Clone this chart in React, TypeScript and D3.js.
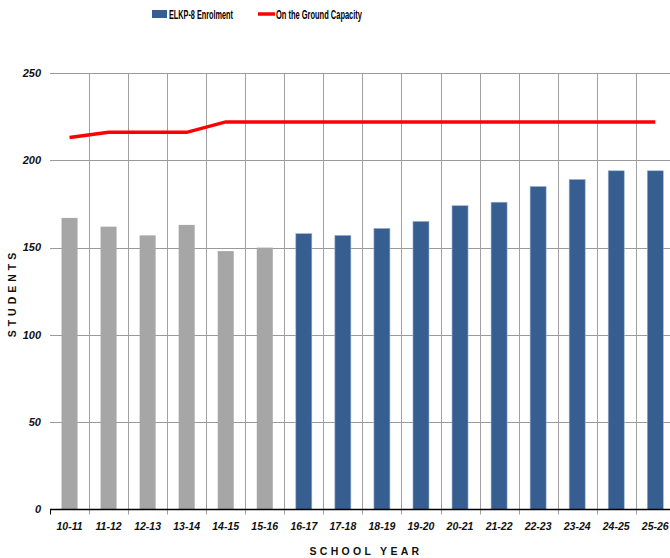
import React, { useRef, useEffect } from 'react';
import * as d3 from 'd3';

const years = ['10-11', '11-12', '12-13', '13-14', '14-15', '15-16', '16-17', '17-18', '18-19', '19-20', '20-21', '21-22', '22-23', '23-24', '24-25', '25-26'];
const enrolment = [167, 162, 157, 163, 148, 150, 158, 157, 161, 165, 174, 176, 185, 189, 194, 194];
// first six years are actuals (drawn grey), the rest are projections
const actualCount = 6;
const capacity = [213, 216, 216, 216, 222, 222, 222, 222, 222, 222, 222, 222, 222, 222, 222, 222];
const yTicks = [0, 50, 100, 150, 200, 250];

const App: React.FC = () => {
  const svgRef = useRef<SVGSVGElement>(null);

  useEffect(() => {
    if (!svgRef.current) return;
    const width = 670;
    const height = 558;
    const left = 50;
    const top = 73;
    const bottom = 509.5;
    const step = 39.05;

    const svg = d3.select(svgRef.current);
    svg.selectAll('*').remove();

    const x = d3.scaleBand<string>().domain(years).range([left, left + step * years.length]).padding(0);
    const y = d3.scaleLinear().domain([0, 250]).range([bottom, top]);

    const grid = svg.append('g');
    // horizontal grid
    grid.selectAll('.hgrid')
      .data(yTicks.filter(t => t > 0))
      .enter()
      .append('line')
      .attr('x1', left)
      .attr('x2', width)
      .attr('y1', d => Math.round(y(d)) + 0.5)
      .attr('y2', d => Math.round(y(d)) + 0.5)
      .style('stroke', '#9a9a9a')
      .style('stroke-width', 1);

    // vertical grid at band boundaries
    grid.selectAll('.vgrid')
      .data(years.slice(1))
      .enter()
      .append('line')
      .attr('x1', d => Math.round(x(d)!) + 0.5)
      .attr('x2', d => Math.round(x(d)!) + 0.5)
      .attr('y1', top)
      .attr('y2', bottom + 5)
      .style('stroke', '#a0a0a0')
      .style('stroke-width', 1);

    // bars
    const bw = x.bandwidth() * 0.41;
    svg.append('g')
      .selectAll('rect')
      .data(enrolment)
      .enter()
      .append('rect')
      .attr('x', (d, i) => x(years[i])! + x.bandwidth() / 2 - bw / 2)
      .attr('y', d => y(d))
      .attr('width', bw)
      .attr('height', d => bottom - y(d))
      .style('fill', (d, i) => (i < actualCount ? '#a6a6a6' : '#365e91'))
      .style('stroke', (d, i) => (i < actualCount ? 'none' : '#9fb3cf'))
      .style('stroke-width', 0.6);

    // x axis line + ticks
    svg.append('line')
      .attr('x1', left)
      .attr('x2', width)
      .attr('y1', bottom)
      .attr('y2', bottom)
      .style('stroke', '#000')
      .style('stroke-width', 1.5);
    svg.append('line')
      .attr('x1', left + 0.5)
      .attr('x2', left + 0.5)
      .attr('y1', bottom)
      .attr('y2', bottom + 5)
      .style('stroke', '#000');

    // capacity line
    const line = d3.line<number>()
      .x((d, i) => x(years[i])! + x.bandwidth() / 2)
      .y(d => y(d));
    svg.append('path')
      .attr('d', line(capacity))
      .style('fill', 'none')
      .style('stroke', '#ff0000')
      .style('stroke-width', 3.5);

    // y tick labels
    svg.selectAll('.ylab')
      .data(yTicks)
      .enter()
      .append('text')
      .attr('x', 41)
      .attr('y', d => y(d))
      .attr('dy', '0.35em')
      .attr('text-anchor', 'end')
      .style('font-family', 'Liberation Sans, Arial, sans-serif')
      .style('font-weight', 'bold')
      .style('font-style', 'italic')
      .style('font-size', '11px')
      .style('fill', '#111')
      .text(d => d);

    // x tick labels
    svg.selectAll('.xlab')
      .data(years)
      .enter()
      .append('text')
      .attr('x', d => x(d)! + x.bandwidth() / 2)
      .attr('y', 530)
      .attr('text-anchor', 'middle')
      .style('font-family', 'Liberation Sans, Arial, sans-serif')
      .style('font-weight', 'bold')
      .style('font-style', 'italic')
      .style('font-size', '10.5px')
      .style('fill', '#111')
      .text(d => d);

    // axis titles
    svg.append('text')
      .attr('x', 366)
      .attr('y', 555)
      .attr('text-anchor', 'middle')
      .style('font-family', 'Liberation Sans, Arial, sans-serif')
      .style('font-weight', 'bold')
      .style('font-size', '10.5px')
      .style('letter-spacing', '3.3px')
      .style('fill', '#111')
      .text('SCHOOL YEAR');

    svg.append('text')
      .attr('transform', 'translate(16,293) rotate(-90)')
      .attr('text-anchor', 'middle')
      .style('font-family', 'Liberation Sans, Arial, sans-serif')
      .style('font-weight', 'bold')
      .style('font-size', '10.5px')
      .style('letter-spacing', '4px')
      .style('fill', '#111')
      .text('STUDENTS');

    // legend
    const legend = svg.append('g');
    legend.append('rect')
      .attr('x', 152)
      .attr('y', 10)
      .attr('width', 15)
      .attr('height', 8)
      .style('fill', '#365e91');
    legend.append('text')
      .attr('x', 169)
      .attr('y', 18.5)
      .attr('textLength', 64)
      .attr('lengthAdjust', 'spacingAndGlyphs')
      .style('font-family', 'Liberation Sans, Arial, sans-serif')
      .style('font-weight', 'bold')
      .style('font-size', '12.5px')
      .style('fill', '#000')
      .text('ELKP-8 Enrolment');
    legend.append('line')
      .attr('x1', 258)
      .attr('x2', 275)
      .attr('y1', 14)
      .attr('y2', 14)
      .style('stroke', '#ff0000')
      .style('stroke-width', 3.5);
    legend.append('text')
      .attr('x', 276)
      .attr('y', 18.5)
      .attr('textLength', 86)
      .attr('lengthAdjust', 'spacingAndGlyphs')
      .style('font-family', 'Liberation Sans, Arial, sans-serif')
      .style('font-weight', 'bold')
      .style('font-size', '12.5px')
      .style('fill', '#000')
      .text('On the Ground Capacity');

    svg.attr('width', width).attr('height', height);
  }, []);

  return (
    <div style={{ position: 'fixed', left: 0, top: 0, width: 670, height: 558, background: '#fff' }}>
      <svg ref={svgRef} width={670} height={558} style={{ display: 'block' }} />
    </div>
  );
};

export default App;
